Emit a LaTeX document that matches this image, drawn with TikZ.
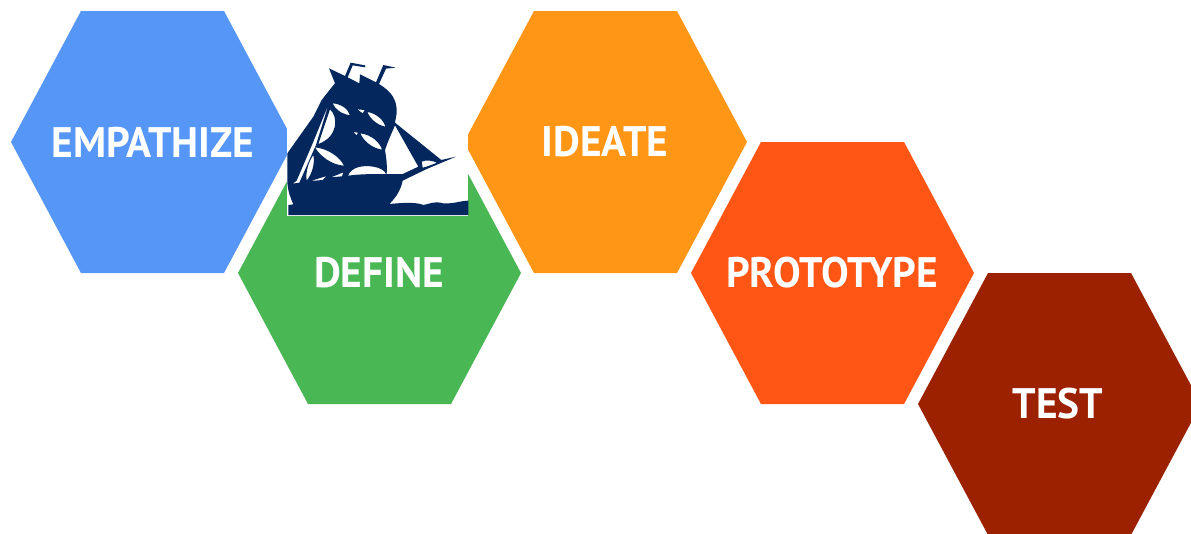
\documentclass[tikz,border=0pt]{standalone}
\usepackage{fontspec}
\setmainfont[FakeStretch=0.97]{PT Sans}
\definecolor{hblue}{HTML}{5596F6}
\definecolor{hgreen}{HTML}{4AB755}
\definecolor{horange}{HTML}{FF9616}
\definecolor{hred}{HTML}{FF5616}
\definecolor{hdark}{HTML}{9C2100}
\definecolor{navy}{HTML}{04275E}
\newcommand{\hexat}[2]{\fill[#2] ([shift={(-72,-131)}]#1) -- ([shift={(71,-131)}]#1) -- ([shift={(141,0)}]#1) -- ([shift={(71,131)}]#1) -- ([shift={(-72,131)}]#1) -- ([shift={(-142,0)}]#1) -- cycle;}
\tikzset{hexlabel/.style={text=white,font=\fontsize{32}{36}\selectfont\bfseries,inner sep=0pt,anchor=center}}
\begin{document}
\begin{tikzpicture}[x=0.75pt,y=-0.75pt]
\useasboundingbox (0,0) rectangle (1191,533);
\clip (0,0) rectangle (1191,533);
\coordinate (c1) at (153,142);
\coordinate (c2) at (380,273);
\coordinate (c3) at (606,142);
\coordinate (c4) at (833,273);
\coordinate (c5) at (1060,404);
\hexat{c1}{hblue}
\hexat{c2}{hgreen}
\hexat{c3}{horange}
\hexat{c4}{hred}
\hexat{c5}{hdark}
% ship panel
\fill[white] (287,40) rectangle (468,216);
\begin{scope}[shift={(280,50)},x=0.25pt,y=-0.25pt]
\fill[navy,even odd rule]
 (147,55) -- (195,78) -- (212,38) -- (255,46) -- (256,52) -- (218,46) -- (203,82) -- (238,100) -- (240,73) -- (288,97) -- (310,45) -- (347,53) -- (318,56) -- (297,102)
 .. controls (335,125) and (352,150) .. (350,190) -- (345,218) -- (484,330) -- (528,320)
 -- (440,357) -- (368,392) .. controls (362,420) and (350,440) .. (328,462)
 .. controls (370,458) and (410,456) .. (430,465) .. controls (450,462) and (460,452) .. (490,460) .. controls (520,462) and (545,452) .. (565,452)
 -- (565,495) -- (25,495) -- (25,465) -- (40,463) .. controls (30,440) and (22,420) .. (22,390) -- (22,310) -- (100,200) -- (125,150) -- (155,112) -- (165,100) -- cycle
 % jib gap
 (345,226) -- (415,350) -- (368,372) -- (320,372) .. controls (322,340) and (318,320) .. (315,300) .. controls (325,270) and (335,250) .. (345,226) -- cycle
 (425,335) .. controls (440,328) and (455,332) .. (471,338) .. controls (455,345) and (440,350) .. (428,353) -- cycle
 (158,160) .. controls (185,162) and (205,178) .. (210,196) .. controls (185,192) and (165,178) .. (158,160) -- cycle
 (232,178) -- (254,180) -- (248,190) -- cycle
 (262,186) .. controls (290,190) and (312,212) .. (316,230) .. controls (290,225) and (270,205) .. (262,186) -- cycle
 (220,246) -- (234,248) -- (230,256) -- cycle
 (241,250) .. controls (275,254) and (300,278) .. (306,299) .. controls (275,294) and (250,272) .. (241,250) -- cycle
 (105,292) .. controls (145,296) and (180,322) .. (192,347) .. controls (155,345) and (120,318) .. (105,292) -- cycle
 (204,377) .. controls (215,350) and (250,345) .. (280,350) .. controls (300,353) and (315,362) .. (318,372) .. controls (280,372) and (240,372) .. (204,377) -- cycle
 (150,178) .. controls (175,200) and (175,260) .. (115,282) -- cycle
 (146,162) -- (108,285) -- (58,398) -- (38,401) -- (50,392) -- (98,280) -- cycle
 (100,315) .. controls (105,340) and (97,370) .. (80,392) .. controls (76,365) and (86,335) .. (100,315) -- cycle
 (92,393) -- (140,378) -- (128,390) -- cycle
 (153,382) -- (190,367) -- (186,379) -- cycle;
\end{scope}
\node[hexlabel] (empathize) at (153,142) {EMPATHIZE};
\node[hexlabel] (define) at (379,273) {DEFINE};
\node[hexlabel] (ideate) at (605,142) {IDEATE};
\node[hexlabel] (prototype) at (832,273) {PROTOTYPE};
\node[hexlabel] (test) at (1058,404) {TEST};
\end{tikzpicture}
\end{document}
